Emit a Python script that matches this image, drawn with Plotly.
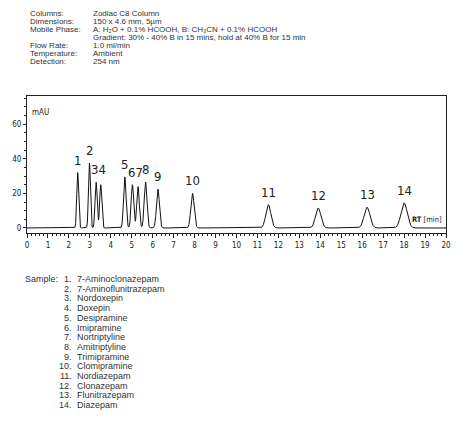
import numpy as np
import plotly.graph_objects as go

# ---- data ----
peak_labels = ["1", "2", "3", "4", "5", "6", "7", "8", "9", "10", "11", "12", "13", "14"]
peak_rt = [2.42, 2.98, 3.30, 3.52, 4.67, 5.03, 5.30, 5.66, 6.25, 7.90, 11.52, 13.90, 16.23, 18.00]
peak_height = [32, 37.5, 26.5, 25, 29.5, 25, 24, 26.5, 22.5, 20, 13.5, 11.5, 12, 14.5]
peak_sigma = [0.045, 0.045, 0.05, 0.05, 0.06, 0.06, 0.06, 0.065, 0.07, 0.08, 0.12, 0.13, 0.14, 0.15]
# peaks whose numbers are printed together as one label ("34", "67")
label_groups = [[0], [1], [2, 3], [4], [5, 6], [7], [8], [9], [10], [11], [12], [13]]

x_ticks = list(range(0, 21))
y_ticks = [0, 20, 40, 60]

header_keys = ["Columns:", "Dimensions:", "Mobile Phase:", "", "Flow Rate:", "Temperature:", "Detection:"]
header_vals = ["Zodiac C8 Column", "150 x 4.6 mm, 5µm",
               "A: H₂O + 0.1% HCOOH, B: CH₃CN + 0.1% HCOOH",
               "Gradient: 30% - 40% B in 15 mins, hold at 40% B for 15 min",
               "1.0 ml/min", "Ambient", "254 nm"]

sample_names = ["7-Aminoclonazepam", "7-Aminoflunitrazepam", "Nordoxepin", "Doxepin",
                "Desipramine", "Imipramine", "Nortriptyline", "Amitriptyline", "Trimipramine",
                "Clomipramine", "Nordiazepam", "Clonazepam", "Flunitrazepam", "Diazepam"]

# ---- chromatogram trace built from the peak table ----
t = np.linspace(0, 20, 4001)
signal = np.zeros_like(t)
for rt, h, s in zip(peak_rt, peak_height, peak_sigma):
    signal += h * np.exp(-0.5 * ((t - rt) / s) ** 2)

fig = go.Figure()
fig.add_trace(go.Scatter(x=t, y=signal, mode="lines",
                         line=dict(color="#111111", width=1), hoverinfo="skip"))

W, H = 474, 428
L, R, T, B = 16, 446, 96, 233


def px(xp):
    return (xp - L) / (R - L)


def py(yp):
    return (B - yp) / (B - T)


txt = "#333333"
fnt = "Liberation Sans, Arial, sans-serif"
narrow = "DejaVu Sans Condensed, Liberation Sans, sans-serif"

ann = []
# peak number labels
for g in label_groups:
    lab = "".join(peak_labels[i] for i in g)
    rt = sum(peak_rt[i] for i in g) / len(g)
    h = max(peak_height[i] for i in g)
    ann.append(dict(x=rt, y=h, xref="x", yref="y", text=lab, showarrow=False,
                    yanchor="bottom", xanchor="center", yshift=3,
                    font=dict(family=narrow, size=13, color="#222222")))

ann.append(dict(x=px(19), y=py(112), xref="paper", yref="paper", text="mAU", showarrow=False,
                xanchor="left", yanchor="middle", font=dict(family=narrow, size=8, color="#222222")))
ann.append(dict(x=px(444), y=py(219), xref="paper", yref="paper", text="<b>RT</b> [min]",
                showarrow=False, xanchor="right", yanchor="middle",
                font=dict(family=narrow, size=7.5, color="#222222")))

# header block
for i, (k, v) in enumerate(zip(header_keys, header_vals)):
    yy = 13 + i * 8.1
    if k:
        ann.append(dict(x=px(17), y=py(yy), xref="paper", yref="paper", text=k, showarrow=False,
                        xanchor="left", yanchor="middle", font=dict(family=fnt, size=8, color=txt)))
    ann.append(dict(x=px(82), y=py(yy), xref="paper", yref="paper", text=v, showarrow=False,
                    xanchor="left", yanchor="middle", font=dict(family=fnt, size=8, color=txt)))

# sample list
ann.append(dict(x=px(12), y=py(279), xref="paper", yref="paper", text="Sample:", showarrow=False,
                xanchor="left", yanchor="middle", font=dict(family=fnt, size=9, color=txt)))
for i, name in enumerate(sample_names):
    yy = 279 + i * 9.7
    ann.append(dict(x=px(64), y=py(yy), xref="paper", yref="paper", text=f"{i + 1}.", showarrow=False,
                    xanchor="right", yanchor="middle", font=dict(family=fnt, size=9, color=txt)))
    ann.append(dict(x=px(65), y=py(yy), xref="paper", yref="paper", text=name, showarrow=False,
                    xanchor="left", yanchor="middle", font=dict(family=fnt, size=9, color=txt)))

fig.update_layout(
    width=W, height=H,
    margin=dict(l=L, r=W - R, t=T, b=H - B),
    paper_bgcolor="white", plot_bgcolor="white",
    showlegend=False,
    annotations=ann,
    xaxis=dict(range=[0, 20], tickvals=x_ticks, ticktext=[str(v) for v in x_ticks],
               showgrid=False, zeroline=False, showline=True, linecolor="#222222", linewidth=1,
               mirror=True, ticks="outside", ticklen=4, tickcolor="#222222",
               minor=dict(dtick=0.2, ticks="outside", ticklen=2, tickcolor="#222222"),
               tickfont=dict(family=narrow, size=8, color="#222222")),
    yaxis=dict(range=[-2.9, 76.3], tickvals=y_ticks, ticktext=[str(v) for v in y_ticks],
               showgrid=False, zeroline=False, showline=True, linecolor="#222222", linewidth=1,
               mirror=True, ticks="outside", ticklen=3, tickcolor="#222222",
               minor=dict(dtick=5, ticks="outside", ticklen=2, tickcolor="#222222"),
               tickfont=dict(family=narrow, size=8, color="#222222")),
)

fig.write_html("out.html")
